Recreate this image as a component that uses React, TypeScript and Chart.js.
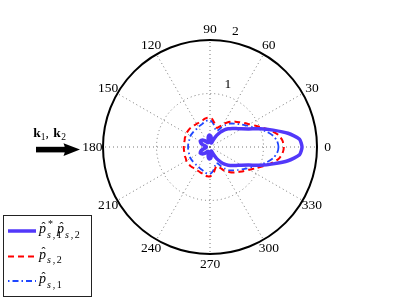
import React, { useEffect, useRef } from 'react';
import { Chart, registerables } from 'chart.js';
Chart.register(...registerables);

// sampling angles (degrees, math convention: 0 = right, counter-clockwise)
const sampleAngles: number[] = Array.from({ length: 72 }, (_, i) => i * 5);

// |p*_{s,1} p_{s,2}|  (solid, thick)
const prodSeries: number[] = [
  1.72, 1.68, 1.48, 1.22, 1.0, 0.8, 0.68, 0.6, 0.54, 0.48, 0.42, 0.34,
  0.25, 0.15, 0.08, 0.08, 0.14, 0.2, 0.22, 0.22, 0.19, 0.13, 0.09, 0.09,
  0.1, 0.12, 0.15, 0.18, 0.2, 0.21, 0.21, 0.19, 0.16, 0.12, 0.09, 0.07,
  0.07, 0.07, 0.09, 0.12, 0.16, 0.19, 0.21, 0.21, 0.2, 0.18, 0.15, 0.12,
  0.1, 0.09, 0.09, 0.13, 0.19, 0.22, 0.22, 0.2, 0.14, 0.08, 0.08, 0.15,
  0.25, 0.34, 0.42, 0.48, 0.54, 0.6, 0.68, 0.8, 1.0, 1.22, 1.48, 1.68,
];

// p_{s,2} (red dashed)
const ps2Series: number[] = [
  1.38, 1.36, 1.3, 1.18, 1.05, 0.94, 0.85, 0.78, 0.72, 0.67, 0.62, 0.56,
  0.5, 0.42, 0.38, 0.4, 0.46, 0.52, 0.55, 0.55, 0.54, 0.52, 0.51, 0.5,
  0.5, 0.5, 0.5, 0.51, 0.51, 0.51, 0.51, 0.5, 0.5, 0.49, 0.49, 0.49,
  0.49, 0.49, 0.49, 0.49, 0.5, 0.5, 0.51, 0.51, 0.51, 0.51, 0.5, 0.5,
  0.5, 0.5, 0.51, 0.52, 0.54, 0.55, 0.55, 0.52, 0.46, 0.4, 0.38, 0.42,
  0.5, 0.56, 0.62, 0.67, 0.72, 0.78, 0.85, 0.94, 1.05, 1.18, 1.3, 1.36,
];

// p_{s,1} (blue dash-dot)
const ps1Series: number[] = [
  1.28, 1.26, 1.2, 1.1, 0.98, 0.88, 0.8, 0.73, 0.67, 0.62, 0.57, 0.5,
  0.42, 0.34, 0.32, 0.36, 0.42, 0.47, 0.5, 0.5, 0.49, 0.47, 0.45, 0.44,
  0.43, 0.42, 0.42, 0.42, 0.42, 0.42, 0.42, 0.42, 0.41, 0.41, 0.41, 0.41,
  0.41, 0.41, 0.41, 0.41, 0.41, 0.42, 0.42, 0.42, 0.42, 0.42, 0.42, 0.42,
  0.43, 0.44, 0.45, 0.47, 0.49, 0.5, 0.5, 0.47, 0.42, 0.36, 0.32, 0.34,
  0.42, 0.5, 0.57, 0.62, 0.67, 0.73, 0.8, 0.88, 0.98, 1.1, 1.2, 1.26,
];

const angleTickLabels: number[] = [0, 30, 60, 90, 120, 150, 180, 210, 240, 270, 300, 330];
const radiusTickLabels: number[] = [1, 2];
const rMax = 2;

const SERIF = '"Liberation Serif", "DejaVu Serif", serif';
const N = sampleAngles.length;
// radar goes clockwise from the start angle; index i is at math angle -angle[i]
const toRadar = (arr: number[]) => arr.map((_, i) => arr[(N - i) % N]);
const radarLabels = sampleAngles.map((_, i) => String(sampleAngles[(N - i) % N]));
const idxForAngle = (a: number) => (N - Math.round(a / 5)) % N;

const PROD_COLOR = 'rgb(82,56,250)';
const RED = 'rgb(255,0,0)';
const BLUE = 'rgb(30,70,255)';

function drawPS(ctx: CanvasRenderingContext2D, x: number, b: number, sub: string, sup?: string) {
  ctx.fillStyle = '#000';
  ctx.textAlign = 'left';
  ctx.textBaseline = 'alphabetic';
  ctx.font = `italic 14px ${SERIF}`;
  ctx.fillText('p', x, b);
  ctx.font = `12px ${SERIF}`;
  ctx.fillText('\u02C6', x + 2.4, b - 2.5);
  ctx.font = `italic 10px ${SERIF}`;
  ctx.fillText('s', x + 8, b + 4.5);
  ctx.font = `10px ${SERIF}`;
  ctx.fillText(',', x + 13.8, b + 4.5);
  ctx.fillText(sub, x + 17.8, b + 4.5);
  if (sup) {
    ctx.fillText(sup, x + 9, b - 6);
  }
}

const decor = {
  id: 'decor',
  afterDraw(chart: any) {
    const ctx: CanvasRenderingContext2D = chart.ctx;
    const sc = chart.scales.r;
    ctx.save();
    // angle labels
    ctx.fillStyle = '#000';
    ctx.font = `13.5px ${SERIF}`;
    ctx.textAlign = 'center';
    ctx.textBaseline = 'middle';
    angleTickLabels.forEach((a) => {
      const p = sc.getPointPosition(idxForAngle(a), sc.getDistanceFromCenterForValue(rMax) * 1.1);
      ctx.fillText(String(a), p.x, p.y);
    });
    // ring labels (MATLAB style, at 82 degrees)
    ctx.textAlign = 'left';
    ctx.textBaseline = 'bottom';
    const a82 = (82 * Math.PI) / 180;
    radiusTickLabels.forEach((v) => {
      const d = sc.getDistanceFromCenterForValue(v + 0.05);
      ctx.fillText('  ' + v, sc.xCenter + d * Math.cos(a82), sc.yCenter - d * Math.sin(a82));
    });

    // arrow annotation
    ctx.fillStyle = '#000';
    ctx.fillRect(36, 146.8, 30, 5.6);
    ctx.beginPath();
    ctx.moveTo(63.5, 143.3);
    ctx.lineTo(80, 149.6);
    ctx.lineTo(63.5, 155.9);
    ctx.quadraticCurveTo(66.5, 149.6, 63.5, 143.3);
    ctx.closePath();
    ctx.fill();
    ctx.textAlign = 'left';
    ctx.textBaseline = 'alphabetic';
    ctx.font = `bold 13.5px ${SERIF}`;
    ctx.fillText('k', 33.3, 137);
    ctx.fillText('k', 53.3, 137);
    ctx.font = `9.5px ${SERIF}`;
    ctx.fillText('1', 40.8, 140);
    ctx.fillText('2', 61.2, 140);
    ctx.font = `13.5px ${SERIF}`;
    ctx.fillText(',', 45.5, 137);

    // legend
    ctx.fillStyle = '#fff';
    ctx.fillRect(3.5, 215.5, 88, 81);
    ctx.strokeStyle = '#222';
    ctx.lineWidth = 1;
    ctx.setLineDash([]);
    ctx.strokeRect(3.5, 215.5, 88, 81);
    const rows = [
      { y: 231, color: PROD_COLOR, w: 3.5, dash: [] as number[] },
      { y: 256.5, color: RED, w: 2, dash: [6, 4] },
      { y: 281, color: BLUE, w: 1.8, dash: [1.5, 3, 6, 3] },
    ];
    rows.forEach((r) => {
      ctx.beginPath();
      ctx.strokeStyle = r.color;
      ctx.lineWidth = r.w;
      ctx.setLineDash(r.dash);
      ctx.moveTo(8, r.y);
      ctx.lineTo(36, r.y);
      ctx.stroke();
    });
    ctx.setLineDash([]);
    drawPS(ctx, 39, 233, '1', '*');
    drawPS(ctx, 57, 233, '2');
    drawPS(ctx, 39, 258.5, '2');
    drawPS(ctx, 39, 283, '1');
    ctx.restore();
  },
};

export default function App() {
  const ref = useRef<HTMLCanvasElement | null>(null);
  useEffect(() => {
    if (!ref.current) return;
    const chart = new Chart(ref.current, {
      type: 'radar',
      data: {
        labels: radarLabels,
        datasets: [
          {
            label: 'prod',
            data: toRadar(prodSeries),
            borderColor: PROD_COLOR,
            borderWidth: 3.5,
            fill: false,
            pointRadius: 0,
            tension: 0.2,
          },
          {
            label: 'ps2',
            data: toRadar(ps2Series),
            borderColor: RED,
            borderWidth: 2,
            borderDash: [6, 4],
            fill: false,
            pointRadius: 0,
            tension: 0.2,
          },
          {
            label: 'ps1',
            data: toRadar(ps1Series),
            borderColor: BLUE,
            borderWidth: 1.8,
            borderDash: [6, 3, 1.5, 3],
            fill: false,
            pointRadius: 0,
            tension: 0.2,
          },
        ],
      },
      options: {
        animation: false,
        responsive: false,
        devicePixelRatio: 1,
        layout: { padding: { left: 103, right: 89, top: 40, bottom: 51 } },
        plugins: { legend: { display: false }, tooltip: { enabled: false } },
        scales: {
          r: {
            min: 0,
            max: rMax,
            startAngle: 90,
            ticks: { stepSize: 1, display: false },
            pointLabels: { display: false },
            grid: {
              circular: true,
              color: (c: any) => (c.tick && c.tick.value === rMax ? '#000' : '#777'),
              lineWidth: (c: any) => (c.tick && c.tick.value === rMax ? 2 : 1),
            },
            border: {
              dash: (c: any) => (c.tick && c.tick.value === rMax ? [] : [1, 3]),
            },
            angleLines: {
              display: true,
              color: (c: any) => (c.index % 6 === 0 ? '#777' : 'rgba(0,0,0,0)'),
              lineWidth: (c: any) => (c.index % 6 === 0 ? 1 : 0),
              borderDash: [1, 3],
            },
          },
        },
      },
      plugins: [decor],
    } as any);
    return () => chart.destroy();
  }, []);
  return (
    <canvas
      ref={ref}
      width={407}
      height={306}
      style={{ position: 'absolute', left: 0, top: 0 }}
    />
  );
}
